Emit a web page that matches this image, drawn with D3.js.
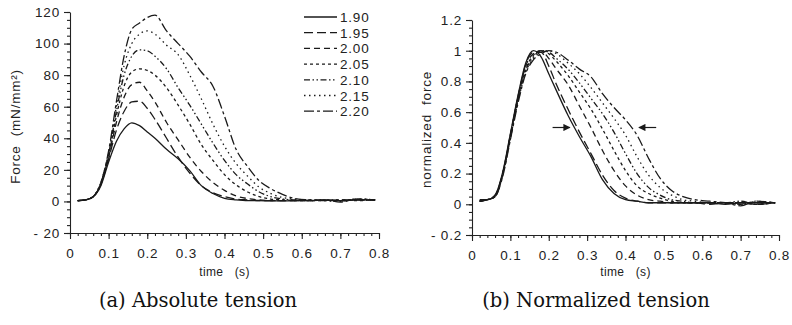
<!DOCTYPE html>
<html>
<head>
<meta charset="utf-8">
<script src="https://cdn.jsdelivr.net/npm/d3@7"></script>
<style>
  body { margin: 0; background: #fff; }
  svg { display: block; }
  text { font-family: "Liberation Sans", Arial, sans-serif; fill: #222; }
  .caption { font-family: "DejaVu Serif", "Liberation Serif", serif; fill: #111; }
</style>
</head>
<body>
<svg id="chart" width="792" height="325"></svg>
<script>
// sample times (s)
const times = [0.02, 0.04, 0.06, 0.08, 0.10, 0.12, 0.14, 0.16, 0.18, 0.20, 0.22, 0.25, 0.28, 0.31,
  0.34, 0.37, 0.40, 0.43, 0.46, 0.49, 0.52, 0.55, 0.58, 0.62, 0.66, 0.70, 0.74, 0.79];

const ratios = ["1.90", "1.95", "2.00", "2.05", "2.10", "2.15", "2.20"];

// absolute force, mN/mm^2
const force190 = [0.5, 1, 3, 10, 25, 38, 46, 49.8, 48, 44, 40, 33, 27, 19.5, 10, 5, 2, 1, 0.5, 0.5, 0.3, 0.3, 0.5, 0.5, 0.8, 0.5, 1, 1];
const force195 = [0.5, 1, 3, 11, 27, 45, 57, 63, 63.5, 59, 52, 40, 28, 18, 10, 5.5, 3, 1.5, 1, 0.6, 0.5, 0.5, 0.5, 0.8, 0.5, 1, 0.8, 1];
const force200 = [0.5, 1, 3, 11, 28, 50, 66, 74, 75.5, 70, 63, 50, 39, 28, 19, 12, 7, 3.5, 1.8, 1, 0.6, 0.5, 0.5, 0.5, 0.8, 0.3, 1, 0.8];
const force205 = [0.5, 1, 3, 11, 29, 54, 73, 82, 84, 83, 80, 72, 61, 49, 36, 26, 17, 10.5, 6, 3, 1.5, 1, 0.6, 0.5, 0.5, 1, 0.5, 1];
const force210 = [0.5, 1, 3, 12, 30, 57, 80, 92, 96, 95.5, 92, 84, 72, 61, 49, 37, 26, 17, 11, 6, 3, 1.5, 1, 0.5, 1, 0.5, 1.5, 1];
const force215 = [0.5, 1, 3, 12, 31, 60, 86, 100, 106, 108, 106, 99, 93, 80, 65, 49, 35, 24, 16, 9, 5, 2.5, 1.5, 1, 0.5, 0, 1.5, 1];
const force220 = [0.5, 1, 3, 12, 32, 63, 92, 109, 113, 116.5, 118, 108, 100, 92, 82, 73, 54, 33, 22, 13, 8, 4.5, 2, 1, 1, -0.5, 1.5, 1];

// normalized force
const norm190 = [0.03, 0.03, 0.06, 0.21, 0.46, 0.71, 0.92, 1.0, 0.96, 0.85, 0.74, 0.58, 0.44, 0.31, 0.16, 0.07, 0.03, 0.02, 0.01, 0.01, 0.01, 0.01, 0.01, 0.01, 0.0, 0.01, 0.01, 0.01];
const norm195 = [0.02, 0.03, 0.06, 0.2, 0.45, 0.7, 0.91, 0.99, 0.99, 0.9, 0.78, 0.62, 0.47, 0.33, 0.19, 0.09, 0.04, 0.02, 0.01, 0.01, 0.01, 0.01, 0.01, 0.0, 0.01, 0.01, 0.0, 0.01];
const norm200 = [0.02, 0.03, 0.05, 0.2, 0.45, 0.7, 0.9, 0.98, 1.0, 0.95, 0.88, 0.78, 0.64, 0.5, 0.35, 0.22, 0.12, 0.06, 0.03, 0.02, 0.01, 0.01, 0.01, 0.01, 0.01, 0.0, 0.01, 0.01];
const norm205 = [0.02, 0.03, 0.05, 0.2, 0.44, 0.69, 0.88, 0.97, 1.0, 0.98, 0.93, 0.84, 0.73, 0.62, 0.49, 0.35, 0.22, 0.12, 0.07, 0.04, 0.02, 0.01, 0.01, 0.01, 0.01, 0.01, 0.0, 0.01];
const norm210 = [0.02, 0.03, 0.05, 0.19, 0.43, 0.68, 0.87, 0.96, 1.0, 0.99, 0.95, 0.88, 0.79, 0.69, 0.59, 0.47, 0.33, 0.2, 0.11, 0.06, 0.03, 0.02, 0.01, 0.01, 0.01, 0.02, 0.0, 0.01];
const norm215 = [0.02, 0.03, 0.05, 0.19, 0.43, 0.67, 0.86, 0.95, 0.99, 1.0, 0.98, 0.92, 0.85, 0.76, 0.66, 0.56, 0.45, 0.31, 0.19, 0.11, 0.06, 0.03, 0.02, 0.01, 0.01, 0.0, 0.02, 0.01];
const norm220 = [0.02, 0.03, 0.05, 0.18, 0.42, 0.66, 0.85, 0.94, 0.98, 1.0, 0.99, 0.94, 0.88, 0.83, 0.72, 0.63, 0.55, 0.45, 0.3, 0.17, 0.09, 0.05, 0.03, 0.02, 0.01, -0.01, 0.02, 0.01];

const xTicks = [0, 0.1, 0.2, 0.3, 0.4, 0.5, 0.6, 0.7, 0.8];
const forceTicks = [-20, 0, 20, 40, 60, 80, 100, 120];
const normTicks = [-0.2, 0, 0.2, 0.4, 0.6, 0.8, 1, 1.2];

const forceSeries = [force190, force195, force200, force205, force210, force215, force220];
const normSeries = [norm190, norm195, norm200, norm205, norm210, norm215, norm220];

// one dash style per ratio
const dashes = ["none", "9,4", "6,4", "3,3", "6,2.5,1.5,2.5,1.5,2.5", "1.5,3.5", "10,3,3,3"];

const svg = d3.select("#chart");

function drawAxes(g, x, y, yTicks, yMinorStep, yFmt) {
  const [y0, y1] = y.domain();
  const xMinor = d3.range(0, 0.8001, 0.02);
  const yMinor = d3.range(y0, y1 + 1e-6, yMinorStep);

  g.append("g")
    .attr("transform", `translate(0,${y(y0)})`)
    .call(d3.axisBottom(x).tickValues(xMinor).tickSize(3).tickFormat(""))
    .call(a => a.select(".domain").remove());
  g.append("g")
    .attr("transform", `translate(0,${y(y0)})`)
    .call(d3.axisBottom(x).tickValues(xTicks).tickSize(6).tickSizeOuter(0).tickPadding(9).tickFormat(d3.format("")))
    .call(a => a.selectAll("text").style("font-size", "13.5px").attr("letter-spacing", "0.8px"));

  g.append("g")
    .attr("transform", `translate(${x(0)},0)`)
    .call(d3.axisLeft(y).tickValues(yMinor).tickSize(3).tickFormat(""))
    .call(a => a.select(".domain").remove());
  g.append("g")
    .attr("transform", `translate(${x(0)},0)`)
    .call(d3.axisLeft(y).tickValues(yTicks).tickSize(6).tickSizeOuter(0).tickPadding(4).tickFormat(yFmt))
    .call(a => a.selectAll("text").style("font-size", "13.5px").attr("letter-spacing", "0.8px"));

  g.selectAll(".domain, .tick line").attr("stroke", "#222").attr("stroke-width", 1.1);
}

function drawCurves(g, x, y, seriesList) {
  const line = d3.line()
    .x((d, i) => x(times[i]))
    .y(d => y(d))
    .curve(d3.curveMonotoneX);
  g.selectAll("path.curve")
    .data(seriesList)
    .join("path")
    .attr("class", "curve")
    .attr("d", line)
    .attr("fill", "none")
    .attr("stroke", "#1a1a1a")
    .attr("stroke-width", 1.3)
    .attr("stroke-dasharray", (d, i) => dashes[i]);
}

// (a) absolute tension
const xA = d3.scaleLinear().domain([0, 0.8]).range([70, 379]);
const yA = d3.scaleLinear().domain([-20, 120]).range([233, 12]);
const gA = svg.append("g");
drawAxes(gA, xA, yA, forceTicks, 5, d => d < 0 ? "- " + Math.abs(d) : d);
drawCurves(gA, xA, yA, forceSeries);

gA.append("text")
  .attr("transform", `translate(20,${(yA(-20) + yA(120)) / 2 + 4}) rotate(-90)`)
  .attr("text-anchor", "middle")
  .style("font-size", "13.5px")
  .attr("letter-spacing", "0.8px")
  .attr("xml:space", "preserve")
  .text("Force  (mN/mm²)");
gA.append("text")
  .attr("x", (xA(0) + xA(0.8)) / 2).attr("y", 276)
  .attr("text-anchor", "middle")
  .style("font-size", "12px")
  .attr("letter-spacing", "0.4px")
  .attr("xml:space", "preserve")
  .text("time   (s)");

// legend
const legend = gA.append("g");
ratios.forEach((r, i) => {
  const ly = 17 + i * 15.7;
  legend.append("line")
    .attr("x1", 304).attr("x2", 337).attr("y1", ly).attr("y2", ly)
    .attr("stroke", "#1a1a1a").attr("stroke-width", 1.3)
    .attr("stroke-dasharray", dashes[i]);
  legend.append("text")
    .attr("x", 340).attr("y", ly + 5)
    .style("font-size", "13.5px")
    .attr("letter-spacing", "0.8px")
    .text(r);
});

// (b) normalized tension
const xB = d3.scaleLinear().domain([0, 0.8]).range([472, 779]);
const yB = d3.scaleLinear().domain([-0.2, 1.2]).range([235, 20]);
const gB = svg.append("g");
drawAxes(gB, xB, yB, normTicks, 0.05, d => d < 0 ? "- " + Math.abs(d) : d);
drawCurves(gB, xB, yB, normSeries);

gB.append("text")
  .attr("transform", `translate(431,${(yB(-0.2) + yB(1.2)) / 2 + 2}) rotate(-90)`)
  .attr("text-anchor", "middle")
  .style("font-size", "13.5px")
  .attr("letter-spacing", "0.8px")
  .attr("xml:space", "preserve")
  .text("normalized  force");
gB.append("text")
  .attr("x", (xB(0) + xB(0.8)) / 2).attr("y", 276)
  .attr("text-anchor", "middle")
  .style("font-size", "12px")
  .attr("letter-spacing", "0.4px")
  .attr("xml:space", "preserve")
  .text("time   (s)");

// arrows marking the half-height spread
const arrowY = yB(0.5);
gB.append("defs").append("marker")
  .attr("id", "head").attr("viewBox", "0 0 10 10")
  .attr("refX", 9).attr("refY", 5)
  .attr("markerWidth", 8).attr("markerHeight", 6)
  .attr("orient", "auto-start-reverse")
  .append("path").attr("d", "M0,0L10,5L0,10z").attr("fill", "#1a1a1a");
gB.append("line")
  .attr("x1", xB(0.21)).attr("x2", xB(0.255)).attr("y1", arrowY).attr("y2", arrowY)
  .attr("stroke", "#1a1a1a").attr("stroke-width", 1.2).attr("marker-end", "url(#head)");
gB.append("line")
  .attr("x1", xB(0.48)).attr("x2", xB(0.435)).attr("y1", arrowY).attr("y2", arrowY)
  .attr("stroke", "#1a1a1a").attr("stroke-width", 1.2).attr("marker-end", "url(#head)");

// captions
svg.append("text").attr("class", "caption")
  .attr("x", 198).attr("y", 307).attr("text-anchor", "middle")
  .style("font-size", "19.5px")
  .text("(a) Absolute tension");
svg.append("text").attr("class", "caption")
  .attr("x", 596).attr("y", 307).attr("text-anchor", "middle")
  .style("font-size", "19.5px")
  .text("(b) Normalized tension");
</script>
</body>
</html>
